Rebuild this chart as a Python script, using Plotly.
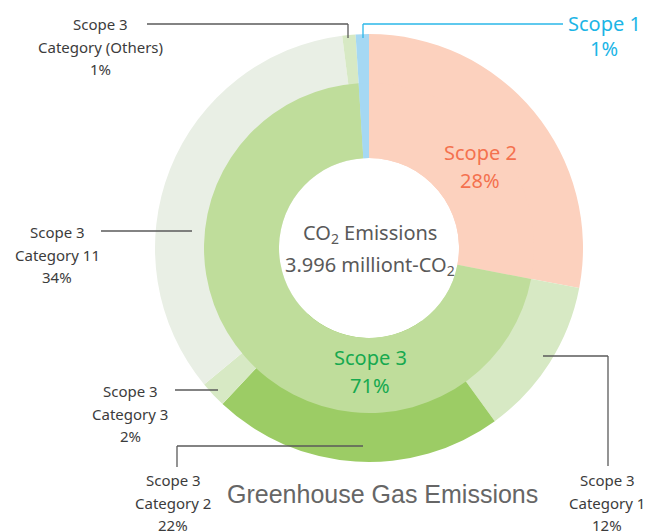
import plotly.graph_objects as go

W, H = 664, 531

# inner ring: scopes (clockwise from 12 o'clock)
inner_labels = ["Scope 2", "Scope 3", "Scope 1"]
inner_values = [28, 71, 1]
inner_colors = ["#fcd1be", "#bfdd9b", "#a5d8f3"]

# outer ring: scope 3 split into categories
outer_labels = ["Scope 2", "Category 1", "Category 2", "Category 3",
                "Category 11", "Category (Others)", "Scope 1"]
outer_values = [28, 12, 22, 2, 34, 1, 1]
outer_colors = ["#fcd1be", "#d7e9c4", "#9ccc65", "#d7e9c4",
                "#e9efe5", "#d7e9c4", "#a5d8f3"]

cx, cy = 369, 248
r_out, r_mid, r_hole = 214, 165, 90


def px(x):
    return x / W


def py(y):
    return 1 - y / H


def dom(r):
    return dict(x=[px(cx - r), px(cx + r)], y=[py(cy + r), py(cy - r)])


fig = go.Figure()
fig.add_trace(go.Pie(
    labels=outer_labels, values=outer_values, sort=False,
    direction="clockwise", rotation=0, hole=r_hole / r_out,
    marker=dict(colors=outer_colors, line=dict(width=0)),
    textinfo="none", hoverinfo="label+value", domain=dom(r_out),
))
fig.add_trace(go.Pie(
    labels=inner_labels, values=inner_values, sort=False,
    direction="clockwise", rotation=0, hole=r_hole / r_mid,
    marker=dict(colors=inner_colors, line=dict(width=0)),
    textinfo="none", hoverinfo="label+value", domain=dom(r_mid),
))

grey = "#5a5a5a"
lines = [
    ([(363, 38), (363, 24), (563, 24)], "#2ab7e8"),
    ([(348, 38), (348, 24), (147, 24)], grey),
    ([(101, 231), (192, 231)], grey),
    ([(175, 390), (218, 390)], grey),
    ([(177, 467), (177, 446), (363, 446)], grey),
    ([(543, 356), (608, 356), (608, 466)], grey),
]
for pts, col in lines:
    for (x0, y0), (x1, y1) in zip(pts[:-1], pts[1:]):
        fig.add_shape(type="line", xref="paper", yref="paper",
                      x0=px(x0), y0=py(y0), x1=px(x1), y1=py(y1),
                      line=dict(color=col, width=1.3))


def text_block(x, y, rows, step, font):
    for i, t in enumerate(rows):
        fig.add_annotation(x=px(x), y=py(y + i * step), xref="paper", yref="paper",
                           text=t, showarrow=False, font=font,
                           xanchor="center", yanchor="middle")


label_font = dict(family="Noto Sans", size=15, color="#3c3c3c")
side_labels = [
    (100, 24, ["Scope 3", "Category (Others)", "1%"]),
    (57, 232, ["Scope 3", "Category 11", "34%"]),
    (130, 391, ["Scope 3", "Category 3", "2%"]),
    (173, 480, ["Scope 3", "Category 2", "22%"]),
    (607, 480, ["Scope 3", "Category 1", "12%"]),
]
for x, y, rows in side_labels:
    text_block(x, y, rows, 22.5, label_font)

big = [
    (604, 23, ["Scope 1", "1%"], "#1cb5e6", 25),
    (480, 152, ["Scope 2", "28%"], "#f4714f", 28),
    (370, 357, ["Scope 3", "71%"], "#16a94f", 28),
    (370, 233, ["CO<sub>2</sub> Emissions", "3.996 milliont-CO<sub>2</sub>"], "#595959", 32),
]
for x, y, rows, c, step in big:
    text_block(x, y, rows, step, dict(family="Noto Sans", size=20, color=c))

fig.add_annotation(x=px(382), y=py(494), xref="paper", yref="paper",
                   text="Greenhouse Gas Emissions", showarrow=False,
                   font=dict(family="Liberation Sans", size=25, color="#666666"),
                   xanchor="center", yanchor="middle")

fig.update_layout(
    width=W, height=H, showlegend=False,
    margin=dict(l=0, r=0, t=0, b=0),
    paper_bgcolor="white", plot_bgcolor="white",
)
fig.write_html("out.html", config={"displayModeBar": False},
               post_script="document.body.style.margin='0';")
